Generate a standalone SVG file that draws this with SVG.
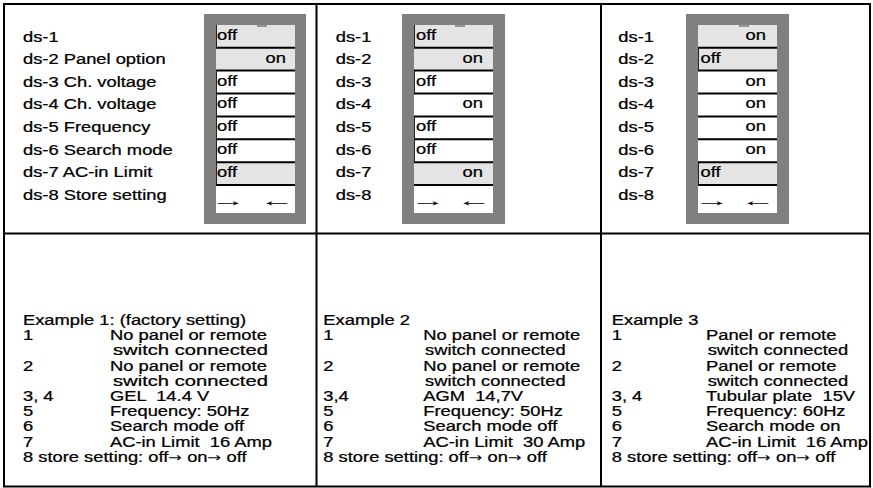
<svg xmlns="http://www.w3.org/2000/svg" width="873" height="488" viewBox="0 0 873 488">
<style>
.t{font-family:"Liberation Sans",Arial,sans-serif;font-size:14.5px;fill:#000;stroke:#000;stroke-width:0.25px;white-space:pre}
.ia{font-family:"DejaVu Sans",sans-serif;font-size:13px;stroke-width:0}
.ar{font-family:"Liberation Serif","Times New Roman",serif;font-size:16px;fill:#000}
.end{text-anchor:end}
.ln{stroke:#000;stroke-width:2;fill:none}
.sep{stroke:#000;stroke-width:2}
.pan{fill:#808080}
.wh{fill:#fff}
.lg{fill:#e4e4e4}
.edge{stroke:#222;stroke-width:1}
</style>
<rect width="873" height="488" fill="#fff"/>
<g id="frame">
<rect class="ln" x="4" y="4" width="866" height="482.5"/>
<line class="ln" x1="4" y1="233.5" x2="870" y2="233.5"/>
<line class="ln" x1="316.5" y1="4" x2="316.5" y2="486.5"/>
<line class="ln" x1="601" y1="4" x2="601" y2="486.5"/>
</g>
<g id="panel-1">
<rect class="pan" x="204" y="14" width="102" height="210"/>
<rect class="wh" x="216" y="25" width="79" height="188"/>
<rect class="lg" x="216" y="25" width="79" height="45.6"/>
<rect class="lg" x="216" y="162.2" width="79" height="22.9"/>
<rect class="pan" x="257" y="25" width="10" height="2" opacity="0.8"/>
<line class="sep" x1="216" y1="47.7" x2="295" y2="47.7"/>
<line class="sep" x1="216" y1="70.6" x2="295" y2="70.6"/>
<line class="sep" x1="216" y1="93.5" x2="295" y2="93.5"/>
<line class="sep" x1="216" y1="116.4" x2="295" y2="116.4"/>
<line class="sep" x1="216" y1="139.3" x2="295" y2="139.3"/>
<line class="sep" x1="216" y1="162.2" x2="295" y2="162.2"/>
<line class="sep" x1="216" y1="185.1" x2="295" y2="185.1"/>
<line class="edge" x1="216.5" y1="25" x2="216.5" y2="47"/>
<line class="edge" x1="216.5" y1="71" x2="216.5" y2="185"/>
</g>
<g id="panel-2">
<rect class="pan" x="402" y="14" width="103" height="210"/>
<rect class="wh" x="414" y="25" width="79" height="188"/>
<rect class="lg" x="414" y="25" width="79" height="45.6"/>
<rect class="lg" x="414" y="162.2" width="79" height="22.9"/>
<rect class="pan" x="455" y="25" width="10" height="2" opacity="0.8"/>
<line class="sep" x1="414" y1="47.7" x2="493" y2="47.7"/>
<line class="sep" x1="414" y1="70.6" x2="493" y2="70.6"/>
<line class="sep" x1="414" y1="93.5" x2="493" y2="93.5"/>
<line class="sep" x1="414" y1="116.4" x2="493" y2="116.4"/>
<line class="sep" x1="414" y1="139.3" x2="493" y2="139.3"/>
<line class="sep" x1="414" y1="162.2" x2="493" y2="162.2"/>
<line class="sep" x1="414" y1="185.1" x2="493" y2="185.1"/>
<line class="edge" x1="414.5" y1="25" x2="414.5" y2="47"/>
<line class="edge" x1="414.5" y1="71" x2="414.5" y2="93"/>
<line class="edge" x1="414.5" y1="117" x2="414.5" y2="162"/>
</g>
<g id="panel-3">
<rect class="pan" x="686" y="14" width="103" height="210"/>
<rect class="wh" x="698" y="25" width="79" height="188"/>
<rect class="lg" x="698" y="25" width="79" height="45.6"/>
<rect class="lg" x="698" y="162.2" width="79" height="22.9"/>
<rect class="pan" x="739" y="25" width="10" height="2" opacity="0.8"/>
<line class="sep" x1="698" y1="47.7" x2="777" y2="47.7"/>
<line class="sep" x1="698" y1="70.6" x2="777" y2="70.6"/>
<line class="sep" x1="698" y1="93.5" x2="777" y2="93.5"/>
<line class="sep" x1="698" y1="116.4" x2="777" y2="116.4"/>
<line class="sep" x1="698" y1="139.3" x2="777" y2="139.3"/>
<line class="sep" x1="698" y1="162.2" x2="777" y2="162.2"/>
<line class="sep" x1="698" y1="185.1" x2="777" y2="185.1"/>
<line class="edge" x1="698.5" y1="48" x2="698.5" y2="70"/>
<line class="edge" x1="698.5" y1="163" x2="698.5" y2="185"/>
</g>
<g id="store-arrows">
<text class="ar" transform="translate(211,206) scale(2.2,1)">→</text>
<text class="ar end" transform="translate(295,206) scale(2.2,1)">←</text>
<text class="ar" transform="translate(410.7,206) scale(2.2,1)">→</text>
<text class="ar end" transform="translate(492,206) scale(2.2,1)">←</text>
<text class="ar" transform="translate(694.7,206) scale(2.2,1)">→</text>
<text class="ar end" transform="translate(776,206) scale(2.2,1)">←</text>
</g>
<g id="texts" transform="scale(1.265 1)">
<g id="labels-1">
<text class="t" x="18.18" y="41.7">ds-1</text>
<text class="t" x="18.18" y="64.3">ds-2 Panel option</text>
<text class="t" x="18.18" y="86.9">ds-3 Ch. voltage</text>
<text class="t" x="18.18" y="109.5">ds-4 Ch. voltage</text>
<text class="t" x="18.18" y="132.1">ds-5 Frequency</text>
<text class="t" x="18.18" y="154.7">ds-6 Search mode</text>
<text class="t" x="18.18" y="177.3">ds-7 AC-in Limit</text>
<text class="t" x="18.18" y="199.9">ds-8 Store setting</text>
</g>
<g id="switches-1">
<text class="t" x="171.5" y="40">off</text>
<text class="t end" x="226.1" y="62.7">on</text>
<text class="t" x="171.5" y="85.6">off</text>
<text class="t" x="171.5" y="108.5">off</text>
<text class="t" x="171.5" y="131.4">off</text>
<text class="t" x="171.5" y="154.3">off</text>
<text class="t" x="171.5" y="177.2">off</text>
</g>
<g id="labels-2">
<text class="t" x="265.4" y="41.7">ds-1</text>
<text class="t" x="265.4" y="64.3">ds-2</text>
<text class="t" x="265.4" y="86.9">ds-3</text>
<text class="t" x="265.4" y="109.5">ds-4</text>
<text class="t" x="265.4" y="132.1">ds-5</text>
<text class="t" x="265.4" y="154.7">ds-6</text>
<text class="t" x="265.4" y="177.3">ds-7</text>
<text class="t" x="265.4" y="199.9">ds-8</text>
</g>
<g id="switches-2">
<text class="t" x="328.9" y="40">off</text>
<text class="t end" x="381.8" y="62.7">on</text>
<text class="t" x="328.9" y="85.6">off</text>
<text class="t end" x="381.8" y="108.5">on</text>
<text class="t" x="328.9" y="131.4">off</text>
<text class="t" x="328.9" y="154.3">off</text>
<text class="t end" x="381.8" y="177.2">on</text>
</g>
<g id="labels-3">
<text class="t" x="488.8" y="41.7">ds-1</text>
<text class="t" x="488.8" y="64.3">ds-2</text>
<text class="t" x="488.8" y="86.9">ds-3</text>
<text class="t" x="488.8" y="109.5">ds-4</text>
<text class="t" x="488.8" y="132.1">ds-5</text>
<text class="t" x="488.8" y="154.7">ds-6</text>
<text class="t" x="488.8" y="177.3">ds-7</text>
<text class="t" x="488.8" y="199.9">ds-8</text>
</g>
<g id="switches-3">
<text class="t end" x="605.5" y="40">on</text>
<text class="t" x="553.8" y="62.7">off</text>
<text class="t end" x="605.5" y="85.6">on</text>
<text class="t end" x="605.5" y="108.5">on</text>
<text class="t end" x="605.5" y="131.4">on</text>
<text class="t end" x="605.5" y="154.3">on</text>
<text class="t" x="553.8" y="177.2">off</text>
</g>
<g id="example-1">
<text class="t" x="18.18" y="325">Example 1: (factory setting)</text>
<text class="t" x="18.18" y="340.2">1</text>
<text class="t" x="86.96" y="340.2">No panel or remote</text>
<text class="t" x="89.33" y="355.4" textLength="122.5" lengthAdjust="spacingAndGlyphs">switch connected</text>
<text class="t" x="18.18" y="370.6">2</text>
<text class="t" x="86.96" y="370.6">No panel or remote</text>
<text class="t" x="89.33" y="385.8" textLength="122.5" lengthAdjust="spacingAndGlyphs">switch connected</text>
<text class="t" x="18.18" y="401">3, 4</text>
<text class="t" x="86.96" y="401">GEL  14.4 V</text>
<text class="t" x="18.18" y="416.2">5</text>
<text class="t" x="86.96" y="416.2">Frequency: 50Hz</text>
<text class="t" x="18.18" y="431.4">6</text>
<text class="t" x="86.96" y="431.4">Search mode off</text>
<text class="t" x="18.18" y="446.6">7</text>
<text class="t" x="86.96" y="446.6">AC-in Limit  16 Amp</text>
<text class="t" x="18.18" y="461.8">8 store setting: off<tspan class="ia">→</tspan> on<tspan class="ia">→</tspan> off</text>
</g>
<g id="example-2">
<text class="t" x="255.6" y="325">Example 2</text>
<text class="t" x="255.6" y="340.2">1</text>
<text class="t" x="334.6" y="340.2">No panel or remote</text>
<text class="t" x="336" y="355.4">switch connected</text>
<text class="t" x="255.6" y="370.6">2</text>
<text class="t" x="334.6" y="370.6">No panel or remote</text>
<text class="t" x="336" y="385.8">switch connected</text>
<text class="t" x="255.6" y="401">3,4</text>
<text class="t" x="334.6" y="401">AGM  14,7V</text>
<text class="t" x="255.6" y="416.2">5</text>
<text class="t" x="334.6" y="416.2">Frequency: 50Hz</text>
<text class="t" x="255.6" y="431.4">6</text>
<text class="t" x="334.6" y="431.4">Search mode off</text>
<text class="t" x="255.6" y="446.6">7</text>
<text class="t" x="334.6" y="446.6">AC-in Limit  30 Amp</text>
<text class="t" x="255.6" y="461.8">8 store setting: off<tspan class="ia">→</tspan> on<tspan class="ia">→</tspan> off</text>
</g>
<g id="example-3">
<text class="t" x="483.6" y="325">Example 3</text>
<text class="t" x="483.6" y="340.2">1</text>
<text class="t" x="558.1" y="340.2">Panel or remote</text>
<text class="t" x="559.4" y="355.4">switch connected</text>
<text class="t" x="483.6" y="370.6">2</text>
<text class="t" x="558.1" y="370.6">Panel or remote</text>
<text class="t" x="559.4" y="385.8">switch connected</text>
<text class="t" x="483.6" y="401">3, 4</text>
<text class="t" x="558.1" y="401">Tubular plate  15V</text>
<text class="t" x="483.6" y="416.2">5</text>
<text class="t" x="558.1" y="416.2">Frequency: 60Hz</text>
<text class="t" x="483.6" y="431.4">6</text>
<text class="t" x="558.1" y="431.4">Search mode on</text>
<text class="t" x="483.6" y="446.6">7</text>
<text class="t" x="558.1" y="446.6">AC-in Limit  16 Amp</text>
<text class="t" x="483.6" y="461.8">8 store setting: off<tspan class="ia">→</tspan> on<tspan class="ia">→</tspan> off</text>
</g>
</g>
</svg>
